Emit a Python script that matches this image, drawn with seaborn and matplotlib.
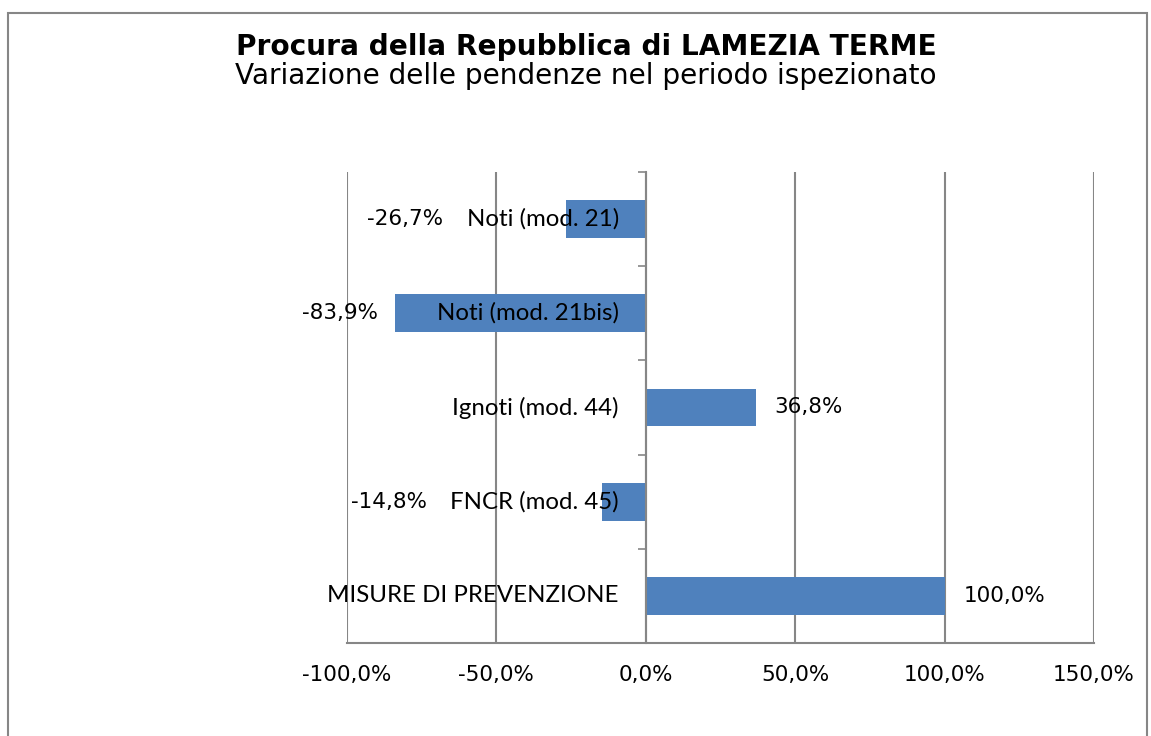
import numpy as np
import pandas as pd
import matplotlib
matplotlib.use("Agg")
import matplotlib.pyplot as plt
from matplotlib.patches import Rectangle
import seaborn as sns

categories = ["Noti (mod. 21)", "Noti (mod. 21bis)", "Ignoti (mod. 44)",
              "FNCR (mod. 45)", "MISURE DI PREVENZIONE"]
values = [-26.7, -83.9, 36.8, -14.8, 100.0]
x_ticks = [-100, -50, 0, 50, 100, 150]

title = "Procura della Repubblica di LAMEZIA TERME"
subtitle = "Variazione delle pendenze nel periodo ispezionato"

bar_color = "#4F81BD"
grid_color = "#868686"

sns.set_theme(style="white")
plt.rcParams["font.family"] = ["DejaVu Sans"]
plt.rcParams["text.color"] = "black"
plt.rcParams["xtick.color"] = "black"

df = pd.DataFrame({"categoria": categories, "variazione": values})

fig = plt.figure(figsize=(11.51, 7.36), dpi=100)
ax = fig.add_axes([347 / 1151, 1 - 643 / 736, (1094 - 347) / 1151, (643 - 172) / 736])

sns.barplot(data=df, y="categoria", x="variazione", orient="h", color=bar_color,
            saturation=1, width=0.4, edgecolor="none", linewidth=0, ax=ax)

ax.set_xlim(x_ticks[0], x_ticks[-1])
ax.set_ylim(len(categories) - 0.5, -0.5)
ax.set_xticks(x_ticks)
ax.set_xticklabels([f"{t:.1f}%".replace(".", ",") for t in x_ticks], fontsize=15.5)
ax.tick_params(axis="x", direction="out", length=6, width=1.2, color=grid_color,
               labelcolor="black", pad=10)
ax.set_xlabel("")
ax.set_ylabel("")

# category axis at zero with boundary ticks
ax.set_yticks(np.arange(len(categories) + 1) - 0.5)
ax.set_yticklabels([])
ax.spines["left"].set_position(("data", 0))
ax.spines["left"].set_color(grid_color)
ax.spines["left"].set_linewidth(1.5)
ax.tick_params(axis="y", direction="out", length=6, width=1.2, color=grid_color, left=True)
ax.spines["bottom"].set_color(grid_color)
ax.spines["bottom"].set_linewidth(1.5)
ax.spines["top"].set_visible(False)
ax.spines["right"].set_visible(False)

ax.grid(axis="x", color=grid_color, linewidth=1.5)
ax.set_axisbelow(True)

# category labels next to the zero axis
cat_texts = []
for i, c in enumerate(categories):
    t = ax.annotate(c, xy=(0, i), xytext=(-27, 0), textcoords="offset pixels",
                    ha="right", va="center", fontsize=17.3, color="black",
                    family=["Lato", "DejaVu Sans"])
    cat_texts.append(t)

fig.canvas.draw()
renderer = fig.canvas.get_renderer()

# value labels
for i, v in enumerate(values):
    label = f"{v:.1f}%".replace(".", ",")
    if v >= 0:
        ax.annotate(label, xy=(v, i), xytext=(19, 0), textcoords="offset pixels",
                    ha="left", va="center", fontsize=15.5, color="black")
    else:
        bar_px = ax.transData.transform((v, i))[0] - 17
        cat_left = cat_texts[i].get_window_extent(renderer).x0 - 23
        right_px = min(bar_px, cat_left)
        x_data = ax.transData.inverted().transform((right_px, 0))[0]
        ax.annotate(label, xy=(x_data, i), ha="right", va="center",
                    fontsize=15.5, color="black")

fig.text(586 / 1151, 1 - 47 / 736, title, ha="center", va="center",
         fontsize=20.2, fontweight="bold", color="black")
fig.text(586 / 1151, 1 - 76 / 736, subtitle, ha="center", va="center",
         fontsize=20.2, color="black")

fig.add_artist(Rectangle((8 / 1151, -0.05), 1139 / 1151, 1 - 13 / 736 + 0.05,
                         transform=fig.transFigure, fill=False,
                         edgecolor=grid_color, linewidth=1.5))

fig.savefig("out.png", dpi=100)
